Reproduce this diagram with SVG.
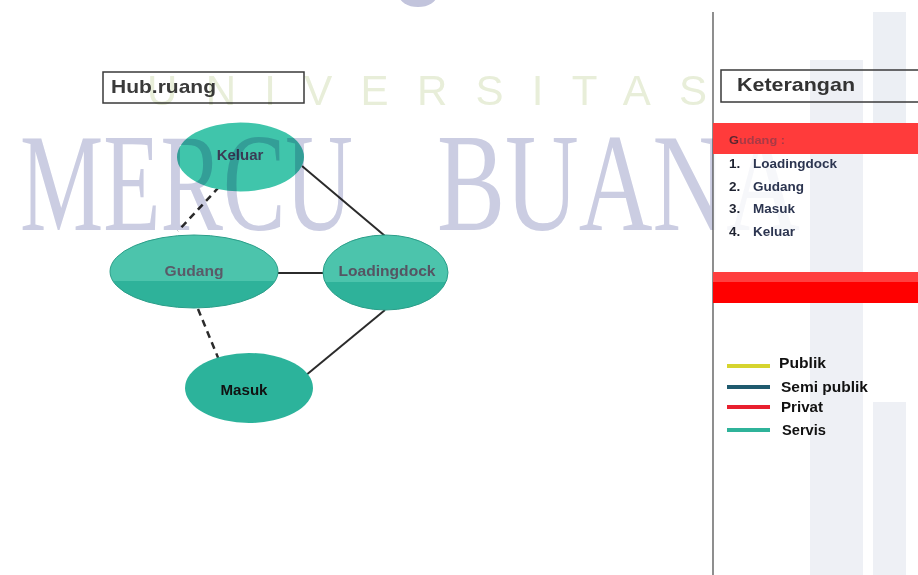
<svg xmlns="http://www.w3.org/2000/svg" width="918" height="575" viewBox="0 0 918 575">
<style>
  .lbl{font-family:"Liberation Sans",Arial,sans-serif;font-weight:bold}
  .node-t{font-size:15px;text-anchor:middle}
  .edge{stroke:#2b2b2b;stroke-width:2;fill:none}
  .dash{stroke-dasharray:7 5;stroke-width:2.5}
  .box{fill:none;stroke:#3a3a3a;stroke-width:1.5}
  .list{font-size:13.5px;fill:#2c3550}
  .num{fill:#1e2230}
  .leg{font-size:14px;fill:#111}
  .legline{stroke-width:4;fill:none}
  .wm{mix-blend-mode:multiply}
  .serif-wm{font-family:"Liberation Serif","Times New Roman",serif;font-size:140px;fill:#cbcde2}
</style>
<defs>
  <linearGradient id="split" x1="0" y1="0" x2="0" y2="1">
    <stop offset="0" stop-color="#4cc4ac"/>
    <stop offset="0.63" stop-color="#4cc4ac"/>
    <stop offset="0.63" stop-color="#2eb29a"/>
    <stop offset="1" stop-color="#2eb29a"/>
  </linearGradient>
  <mask id="wmMask" maskUnits="userSpaceOnUse" x="0" y="-20" width="918" height="595">
    <rect x="0" y="-20" width="713" height="595" fill="#ffffff"/>
    <rect x="713" y="-20" width="205" height="595" fill="#2a2a2a"/>
  </mask>
</defs>
<rect width="918" height="575" fill="#ffffff"/>

<g id="background">
  <rect x="810" y="60" width="53" height="515" fill="#eef0f5"/>
  <rect x="873" y="12" width="33" height="120" fill="#eceff4"/>
  <rect x="873" y="402" width="33" height="173" fill="#eef0f5"/>
</g>

<g id="title-hub">
  <rect class="box" x="103" y="72" width="201" height="31"/>
  <text class="lbl" x="111" y="93" font-size="19" fill="#3a3a3a" textLength="105" lengthAdjust="spacingAndGlyphs">Hub.ruang</text>
</g>

<g id="connectors">
  <line class="edge dash" x1="219" y1="187" x2="178" y2="231"/>
  <line class="edge" x1="302" y1="166" x2="385" y2="236"/>
  <line class="edge" x1="278" y1="273" x2="323" y2="273"/>
  <line class="edge dash" x1="198" y1="309" x2="219" y2="360"/>
  <line class="edge" x1="385" y1="310" x2="305" y2="376"/>
</g>

<g id="node-keluar">
  <ellipse cx="240.5" cy="157" rx="63.5" ry="34.5" fill="#40c5ab"/>
  <text class="lbl node-t" x="240" y="160" font-size="14" fill="#3b3b55">Keluar</text>
</g>
<g id="node-gudang">
  <ellipse cx="194" cy="271.5" rx="84" ry="36.5" fill="url(#split)" stroke="#2a9e89" stroke-width="1"/>
  <text class="lbl node-t" x="194" y="276" fill="#5a5a68" textLength="59" lengthAdjust="spacingAndGlyphs">Gudang</text>
</g>
<g id="node-loadingdock">
  <ellipse cx="385.5" cy="272.5" rx="62.5" ry="37.5" fill="url(#split)" stroke="#2a9e89" stroke-width="1"/>
  <text class="lbl node-t" x="387" y="276" fill="#555563" textLength="97" lengthAdjust="spacingAndGlyphs">Loadingdock</text>
</g>
<g id="node-masuk">
  <ellipse cx="249" cy="388" rx="64" ry="35" fill="#2cb39b"/>
  <text class="lbl node-t" x="244" y="395" fill="#111" textLength="47" lengthAdjust="spacingAndGlyphs">Masuk</text>
</g>

<g id="watermark" class="wm" mask="url(#wmMask)">
  <ellipse cx="418" cy="-5" rx="19" ry="12" fill="#c2c4dc"/>
  <text x="147" y="105" font-family="'Liberation Sans',Arial,sans-serif" font-size="42" fill="#e8eed9" textLength="560" lengthAdjust="spacing">UNIVERSITAS</text>
  <text class="serif-wm" x="20" y="230" textLength="333" lengthAdjust="spacingAndGlyphs">MERCU</text>
  <text class="serif-wm" x="437" y="230" textLength="363" lengthAdjust="spacingAndGlyphs">BUANA</text>
</g>

<g id="panel">
  <line x1="713" y1="12" x2="713" y2="575" stroke="#444" stroke-width="1.2"/>
  <rect x="713" y="123" width="205" height="31" fill="#ff3b3b"/>
  <rect x="713" y="272" width="205" height="10" fill="#ff3f3f"/>
  <rect x="713" y="282" width="205" height="21" fill="#ff0000"/>
</g>

<g id="title-keterangan">
  <rect class="box" x="721" y="70" width="210" height="32"/>
  <text class="lbl" x="737" y="91" font-size="19" fill="#333" textLength="118" lengthAdjust="spacingAndGlyphs">Keterangan</text>
</g>

<g id="list">
  <text class="lbl" x="729" y="144" font-size="11.5" fill="#a83a46" textLength="56" lengthAdjust="spacingAndGlyphs"><tspan fill="#5a2630">G</tspan>udang :</text>
  <text class="lbl list" y="168"><tspan class="num" x="729">1.</tspan><tspan x="753">Loadingdock</tspan></text>
  <text class="lbl list" y="191"><tspan class="num" x="729">2.</tspan><tspan x="753">Gudang</tspan></text>
  <text class="lbl list" y="213"><tspan class="num" x="729">3.</tspan><tspan x="753">Masuk</tspan></text>
  <text class="lbl list" y="236"><tspan class="num" x="729">4.</tspan><tspan x="753">Keluar</tspan></text>
</g>

<g id="legend">
  <line class="legline" x1="727" y1="366" x2="770" y2="366" stroke="#d6d42e"/>
  <text class="lbl leg" x="779" y="368" textLength="47" lengthAdjust="spacingAndGlyphs">Publik</text>
  <line class="legline" x1="727" y1="387" x2="770" y2="387" stroke="#1f5a6e"/>
  <text class="lbl leg" x="781" y="392" textLength="87" lengthAdjust="spacingAndGlyphs">Semi publik</text>
  <line class="legline" x1="727" y1="407" x2="770" y2="407" stroke="#e8202e"/>
  <text class="lbl leg" x="781" y="412" textLength="42" lengthAdjust="spacingAndGlyphs">Privat</text>
  <line class="legline" x1="727" y1="430" x2="770" y2="430" stroke="#2fb39a"/>
  <text class="lbl leg" x="782" y="435" textLength="44" lengthAdjust="spacingAndGlyphs">Servis</text>
</g>
</svg>
